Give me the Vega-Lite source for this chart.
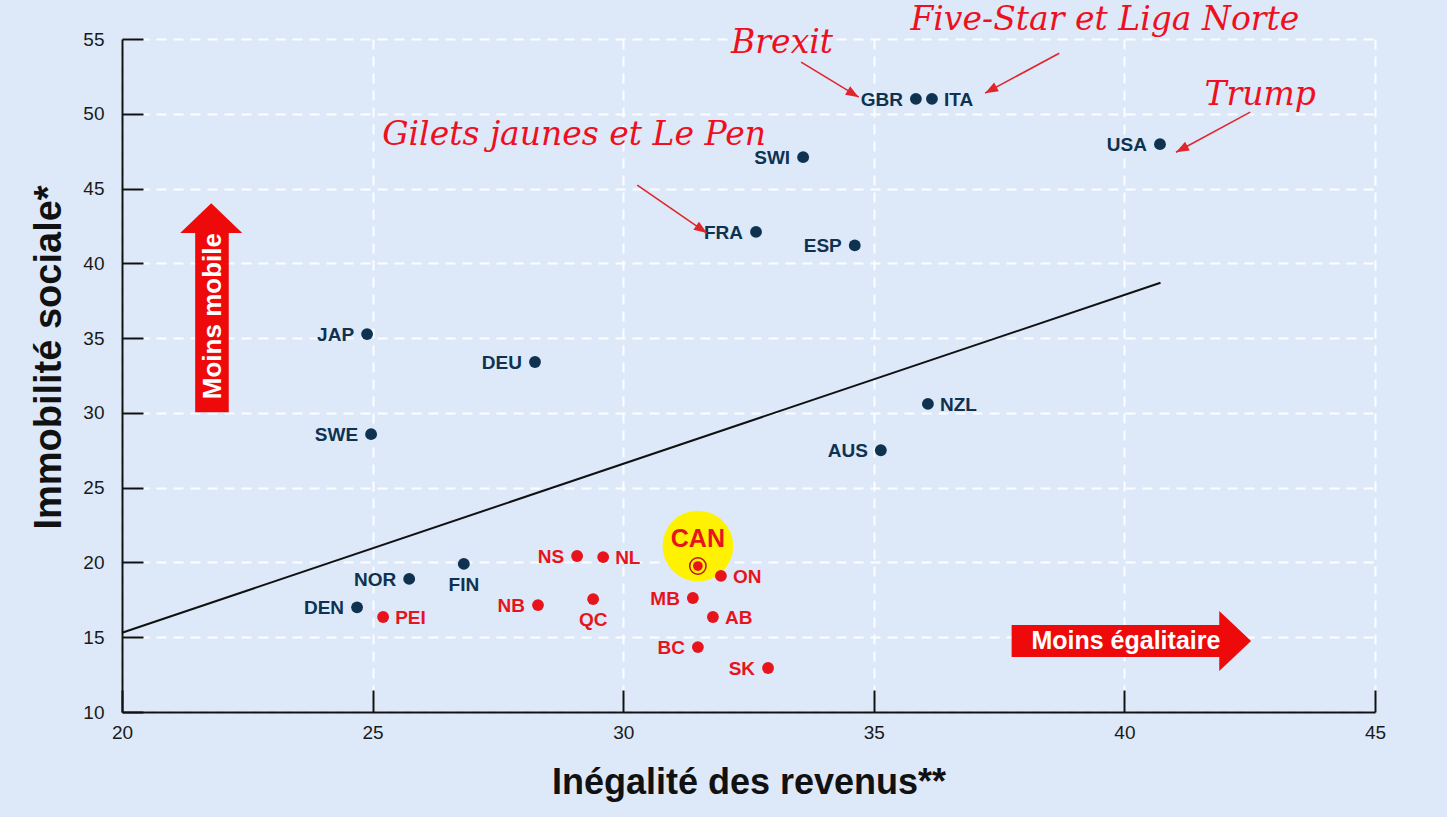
{
  "$schema": "https://vega.github.io/schema/vega-lite/v6.json",
  "width": 1253,
  "height": 673,
  "autosize": {"type": "none"},
  "padding": {"left": 122, "top": 39, "right": 72, "bottom": 105},
  "background": "#dde9f9",
  "config": {"view": {"stroke": null}, "font": "Liberation Sans"},
  "datasets": {
    "pays": [
      {"code": "GBR", "x": 35.84, "y": 51.0, "groupe": "pays"},
      {"code": "ITA", "x": 36.16, "y": 51.0, "groupe": "pays"},
      {"code": "USA", "x": 40.71, "y": 47.97, "groupe": "pays"},
      {"code": "SWI", "x": 33.59, "y": 47.1, "groupe": "pays"},
      {"code": "FRA", "x": 32.65, "y": 42.1, "groupe": "pays"},
      {"code": "ESP", "x": 34.62, "y": 41.2, "groupe": "pays"},
      {"code": "JAP", "x": 24.89, "y": 35.27, "groupe": "pays"},
      {"code": "DEU", "x": 28.24, "y": 33.4, "groupe": "pays"},
      {"code": "NZL", "x": 36.08, "y": 30.6, "groupe": "pays"},
      {"code": "AUS", "x": 35.14, "y": 27.5, "groupe": "pays"},
      {"code": "SWE", "x": 24.97, "y": 28.58, "groupe": "pays"},
      {"code": "FIN", "x": 26.82, "y": 19.9, "groupe": "pays"},
      {"code": "NOR", "x": 25.73, "y": 18.9, "groupe": "pays"},
      {"code": "DEN", "x": 24.69, "y": 17.0, "groupe": "pays"},
      {"code": "PEI", "x": 25.21, "y": 16.35, "groupe": "canada"},
      {"code": "NB", "x": 28.3, "y": 17.15, "groupe": "canada"},
      {"code": "QC", "x": 29.4, "y": 17.55, "groupe": "canada"},
      {"code": "NS", "x": 29.08, "y": 20.43, "groupe": "canada"},
      {"code": "NL", "x": 29.6, "y": 20.36, "groupe": "canada"},
      {"code": "CAN", "x": 31.49, "y": 19.76, "groupe": "canada"},
      {"code": "ON", "x": 31.95, "y": 19.1, "groupe": "canada"},
      {"code": "MB", "x": 31.39, "y": 17.62, "groupe": "canada"},
      {"code": "AB", "x": 31.79, "y": 16.35, "groupe": "canada"},
      {"code": "BC", "x": 31.49, "y": 14.34, "groupe": "canada"},
      {"code": "SK", "x": 32.89, "y": 12.94, "groupe": "canada"}
    ],
    "regression": [
      {"x": 20, "y": 15.3},
      {"x": 40.72, "y": 38.7}
    ],
    "annotations": [
      {"texte": "Brexit", "x": 33.17, "y": 54.05},
      {"texte": "Five-Star et Liga Norte", "x": 39.61, "y": 55.6},
      {"texte": "Trump", "x": 42.71, "y": 50.57},
      {"texte": "Gilets jaunes et Le Pen", "x": 29.02, "y": 47.9}
    ],
    "fleches": [
      {"nom": "Brexit", "x": 34.7, "y": 51.11, "x2": 33.55, "y2": 53.45},
      {"nom": "Five-Star", "x": 37.22, "y": 51.38, "x2": 38.7, "y2": 54.05},
      {"nom": "Trump", "x": 41.03, "y": 47.43, "x2": 42.51, "y2": 50.11},
      {"nom": "Gilets", "x": 31.67, "y": 42.02, "x2": 30.28, "y2": 45.23}
    ]
  },
  "encoding": {
    "x": {
      "field": "x",
      "type": "quantitative",
      "scale": {"domain": [20, 45], "nice": false, "zero": false},
      "axis": {
        "values": [20, 25, 30, 35, 40, 45],
        "title": "Inégalité des revenus**",
        "titleFont": "Liberation Sans",
        "titleFontSize": 36,
        "titleFontWeight": "bold",
        "titleColor": "#111111",
        "titlePadding": 23,
        "labelFont": "Liberation Sans",
        "labelFontSize": 19,
        "labelColor": "#1a1a1a",
        "labelPadding": 33,
        "labelFlush": false,
        "tickSize": -22,
        "tickWidth": 2,
        "tickColor": "#111111",
        "domainColor": "#111111",
        "domainWidth": 2,
        "grid": true,
        "gridColor": "#ffffff",
        "gridDash": [10, 7],
        "gridWidth": 2,
        "gridOpacity": 0.9
      }
    },
    "y": {
      "field": "y",
      "type": "quantitative",
      "scale": {"domain": [10, 55], "nice": false, "zero": false},
      "axis": {
        "values": [10, 15, 20, 25, 30, 35, 40, 45, 50, 55],
        "title": "Immobilité sociale*",
        "titleFont": "Liberation Sans",
        "titleFontSize": 38,
        "titleFontWeight": "bold",
        "titleColor": "#111111",
        "titlePadding": 14,
        "titleY": 318,
        "labelFont": "Liberation Sans",
        "labelFontSize": 19,
        "labelColor": "#1a1a1a",
        "labelPadding": 39,
        "labelFlush": false,
        "tickSize": -21,
        "tickWidth": 2,
        "tickColor": "#111111",
        "domainColor": "#111111",
        "domainWidth": 2,
        "grid": true,
        "gridColor": "#ffffff",
        "gridDash": [10, 7],
        "gridWidth": 2,
        "gridOpacity": 0.9
      }
    }
  },
  "layer": [
    {
      "data": {"name": "regression"},
      "mark": {"type": "line", "color": "#111111", "strokeWidth": 2}
    },
    {
      "data": {"name": "pays"},
      "transform": [{"filter": "datum.code === 'CAN'"}],
      "mark": {"type": "point", "filled": true, "color": "#fff200", "opacity": 1, "size": 5000, "yOffset": -20}
    },
    {
      "data": {"name": "pays"},
      "transform": [{"filter": "datum.code !== 'CAN'"}],
      "mark": {"type": "circle", "size": 140, "opacity": 1},
      "encoding": {
        "color": {"field": "groupe", "type": "nominal", "scale": {"domain": ["pays", "canada"], "range": ["#0e3250", "#e8141c"]}, "legend": null}
      }
    },
    {
      "data": {"name": "pays"},
      "transform": [{"filter": "datum.code === 'CAN'"}],
      "mark": {"type": "point", "filled": false, "stroke": "#b8141c", "strokeWidth": 1.5, "opacity": 1, "size": 270}
    },
    {
      "data": {"name": "pays"},
      "transform": [{"filter": "datum.code === 'CAN'"}],
      "mark": {"type": "circle", "color": "#e8141c", "opacity": 1, "size": 95}
    },
    {
      "data": {"name": "pays"},
      "transform": [{"filter": {"field": "code", "oneOf": ["GBR", "USA", "SWI", "FRA", "ESP", "JAP", "DEU", "AUS", "SWE", "NOR", "DEN", "NB", "NS", "MB", "BC", "SK"]}}],
      "mark": {"type": "text", "align": "right", "baseline": "middle", "dx": -13, "dy": 1, "fontSize": 19, "fontWeight": "bold", "font": "Liberation Sans"},
      "encoding": {
        "text": {"field": "code"},
        "color": {"field": "groupe", "type": "nominal", "legend": null}
      }
    },
    {
      "data": {"name": "pays"},
      "transform": [{"filter": {"field": "code", "oneOf": ["ITA", "NZL", "PEI", "NL", "ON", "AB"]}}],
      "mark": {"type": "text", "align": "left", "baseline": "middle", "dx": 12, "dy": 1, "fontSize": 19, "fontWeight": "bold", "font": "Liberation Sans"},
      "encoding": {
        "text": {"field": "code"},
        "color": {"field": "groupe", "type": "nominal", "legend": null}
      }
    },
    {
      "data": {"name": "pays"},
      "transform": [{"filter": {"field": "code", "oneOf": ["FIN", "QC"]}}],
      "mark": {"type": "text", "align": "center", "baseline": "middle", "dy": 21, "fontSize": 19, "fontWeight": "bold", "font": "Liberation Sans"},
      "encoding": {
        "text": {"field": "code"},
        "color": {"field": "groupe", "type": "nominal", "legend": null}
      }
    },
    {
      "data": {"name": "pays"},
      "transform": [{"filter": "datum.code === 'CAN'"}],
      "mark": {"type": "text", "align": "center", "baseline": "middle", "dy": -27, "fontSize": 25, "fontWeight": "bold", "font": "Liberation Sans", "color": "#e8141c"},
      "encoding": {"text": {"field": "code"}}
    },
    {
      "data": {"name": "annotations"},
      "mark": {"type": "text", "align": "center", "baseline": "alphabetic", "font": "DejaVu Serif", "fontStyle": "italic", "fontSize": 33, "color": "#ee1020"},
      "encoding": {"text": {"field": "texte"}}
    },
    {
      "data": {"name": "fleches"},
      "mark": {"type": "rule", "color": "#e0262c", "strokeWidth": 1.6},
      "encoding": {
        "x2": {"field": "x2"},
        "y2": {"field": "y2"}
      }
    },
    {
      "data": {"name": "fleches"},
      "transform": [{"filter": "datum.nom === 'Brexit'"}],
      "mark": {"type": "point", "filled": true, "opacity": 1, "color": "#e0262c", "shape": "M0,0L0.38,1L-0.38,1Z", "size": 676, "angle": 121}
    },
    {
      "data": {"name": "fleches"},
      "transform": [{"filter": "datum.nom === 'Five-Star' || datum.nom === 'Trump'"}],
      "mark": {"type": "point", "filled": true, "opacity": 1, "color": "#e0262c", "shape": "M0,0L0.38,1L-0.38,1Z", "size": 676, "angle": 241.6}
    },
    {
      "data": {"name": "fleches"},
      "transform": [{"filter": "datum.nom === 'Gilets'"}],
      "mark": {"type": "point", "filled": true, "opacity": 1, "color": "#e0262c", "shape": "M0,0L0.38,1L-0.38,1Z", "size": 676, "angle": 124.4}
    },
    {
      "data": {"values": [
        {"x": 21.46, "x2": 22.13, "y": 30.05, "y2": 42.1},
        {"x": 37.75, "x2": 41.95, "y": 13.68, "y2": 15.82}
      ]},
      "mark": {"type": "rect", "color": "#ee0a0a", "opacity": 1},
      "encoding": {"x2": {"field": "x2"}, "y2": {"field": "y2"}}
    },
    {
      "data": {"values": [{"x": 21.78, "y": 43.02}]},
      "mark": {"type": "point", "filled": true, "opacity": 1, "color": "#ee0a0a", "shape": "M-1,0.48L0,-0.48L1,0.48Z", "size": 3844}
    },
    {
      "data": {"values": [{"x": 42.21, "y": 14.75}]},
      "mark": {"type": "point", "filled": true, "opacity": 1, "color": "#ee0a0a", "shape": "M-0.53,-1L0.53,0L-0.53,1Z", "size": 3600}
    },
    {
      "data": {"values": [{"x": 21.82, "y": 36.47, "texte": "Moins mobile"}]},
      "mark": {"type": "text", "align": "center", "baseline": "middle", "angle": 270, "fontSize": 26, "fontWeight": "bold", "font": "Liberation Sans", "color": "#ffffff"},
      "encoding": {"text": {"field": "texte"}}
    },
    {
      "data": {"values": [{"x": 40.03, "y": 14.75, "texte": "Moins égalitaire"}]},
      "mark": {"type": "text", "align": "center", "baseline": "middle", "fontSize": 25, "fontWeight": "bold", "font": "Liberation Sans", "color": "#ffffff"},
      "encoding": {"text": {"field": "texte"}}
    }
  ]
}
